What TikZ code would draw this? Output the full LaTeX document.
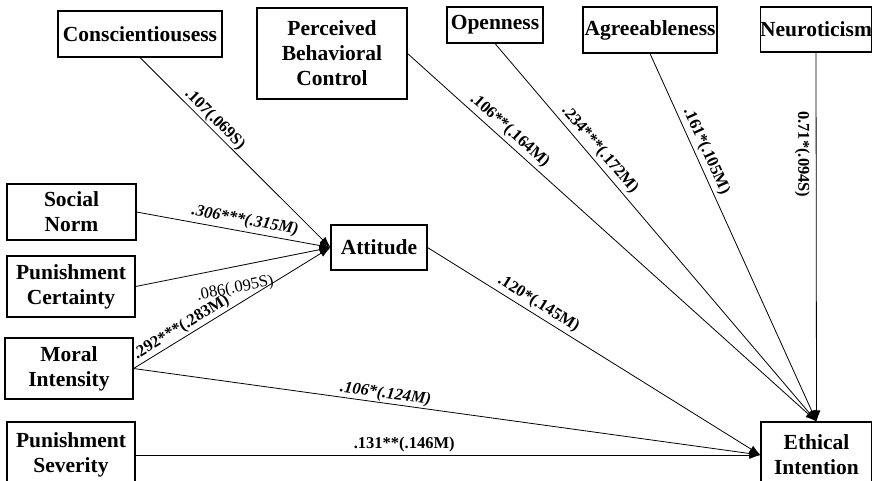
\documentclass[tikz,border=0pt]{standalone}
\usepackage{fontspec}
\setmainfont{Liberation Serif}
\usetikzlibrary{arrows.meta}

\begin{document}
\begin{tikzpicture}[x=1pt,y=1pt,
box/.style={draw,line width=1.1pt,inner sep=0pt,align=center,font=\fontsize{21.5}{25}\selectfont\bfseries},
path/.style={line width=0.8pt,-{Latex[length=11pt,width=8pt]}},
coef/.style={sloped,font=\fontsize{16.5}{19}\selectfont\bfseries,inner sep=3pt}]
\useasboundingbox (0,0) rectangle (872,-480);
\node[box,minimum width=164pt,minimum height=46pt] (cons) at (140,-34) {Conscientiousess};
\node[box,minimum width=150pt,minimum height=91pt] (pbc) at (332,-53.5) {Perceived\\Behavioral\\Control};
\node[box,minimum width=96pt,minimum height=36pt] (open) at (495,-25) {Openness};
\node[box,minimum width=134pt,minimum height=46pt] (agree) at (650,-30) {Agreeableness};
\node[box,minimum width=110pt,minimum height=45pt] (neuro) at (816,-29.5) {Neuroticism};
\node[box,minimum width=129pt,minimum height=56pt] (sn) at (71.5,-212) {Social\\Norm};
\node[box,minimum width=128pt,minimum height=61pt] (pc) at (71,-286.5) {Punishment\\Certainty};
\node[box,minimum width=96pt,minimum height=45pt] (att) at (379,-247.5) {Attitude};
\node[box,minimum width=128pt,minimum height=61pt] (mi) at (69,-368.5) {Moral\\Intensity};
\node[box,minimum width=128pt,minimum height=66pt] (ps) at (71,-455) {Punishment\\Severity};
\node[box,minimum width=111pt,minimum height=66pt] (ei) at (816.5,-455) {Ethical\\Intention};
\draw[path] (cons.south) -- node[coef,pos=0.36,above,inner sep=1pt] {.107(.069S)} (att.west);
\draw[path] (sn.east) -- node[coef,pos=0.55,above] {\itshape .306***(.315M)} (att.west);
\draw[path] (pc.east) -- node[coef,pos=0.49,below=11pt,font=\fontsize{16.5}{19}\selectfont] {.086(.095S)} (att.west);
\draw[path] (mi.east) -- node[coef,pos=0.27,above,inner sep=2pt] {.292***(.283M)} (att.west);
\draw[path] (mi.east) -- node[coef,pos=0.4,above,inner sep=1pt] {\itshape .106*(.124M)} (ei.west);
\draw[path] (ps.east) -- node[coef,pos=0.43,above] {.131**(.146M)} (ei.west);
\draw[path] (att.east) -- node[coef,pos=0.316,above] {.120*(.145M)} (ei.west);
\draw[path] (pbc.east) -- node[coef,pos=0.232,above] {.106**(.164M)} (ei.north);
\draw[path] (open.south) -- node[coef,pos=0.3,above] {.234***(.172M)} (ei.north);
\draw[path] (agree.south) -- node[coef,pos=0.278,above] {.161*(.105M)} (ei.north);
\draw[path] (neuro.south) -- node[coef,pos=0.276,below=5pt,inner sep=1pt] {0.71*(.094S)} (ei.north);
\end{tikzpicture}
\end{document}
